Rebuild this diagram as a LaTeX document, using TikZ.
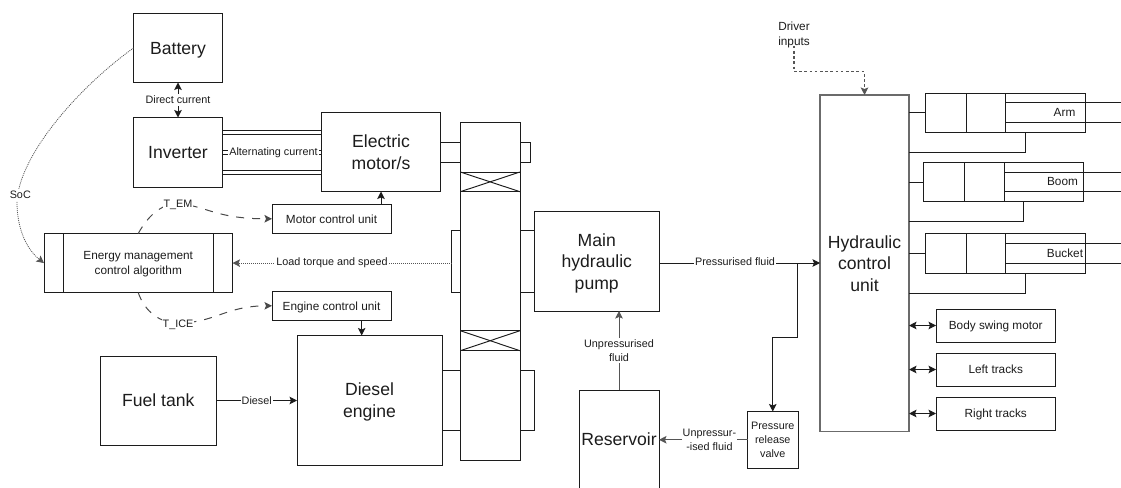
\documentclass[tikz,border=0pt]{standalone}
\usepackage{fontspec}
\setmainfont{Liberation Sans}
\usetikzlibrary{arrows.meta}
\definecolor{ink}{HTML}{1C1C1C}
\tikzset{
  x=1pt,y=-1pt,
  every node/.style={text=ink,align=center,inner sep=0pt,outer sep=0pt,text depth=0pt},
  line/.style={draw=ink,line width=0.95pt},
  box/.style={line,rectangle},
  big/.style={font=\fontsize{17.6}{21.5}\selectfont},
  mid/.style={font=\fontsize{11.8}{15}\selectfont},
  small/.style={font=\fontsize{10.8}{13.8}\selectfont},
  tag/.style={small,fill=white,inner xsep=1pt,inner ysep=2pt},
  tip/.style={-{Stealth[length=7.5pt,width=7.5pt,inset=1.5pt]}},
  tips/.style={{Stealth[length=7.5pt,width=7.5pt,inset=1.5pt]}-{Stealth[length=7.5pt,width=7.5pt,inset=1.5pt]}},
  fine/.style={draw=ink!75,line width=0.8pt,dash pattern=on 1pt off 1pt},
  longdash/.style={draw=ink!80,line width=1pt,dash pattern=on 8pt off 8pt},
  shortdash/.style={draw=ink!75,line width=1.1pt,dash pattern=on 2.6pt off 2.6pt},
}
% \rbox[style]{name}{x1}{y1}{x2}{y2}{text}
\newcommand{\rbox}[7][box]{%
  \node[#1,minimum width={(#5-#3)*1pt},minimum height={(#6-#4)*1pt}] (#2) at ({(#3+#5)/2},{(#4+#6)/2}) {#7};}
% \cyl{name}{x1}{y1}{x2}{y2}{xinner}{xrod}{yrod1}{yrod2}
\newcommand{\cyl}[9]{%
  \rbox[box]{#1}{#2}{#3}{#4}{#5}{}
  \draw[line] (#6,#3) -- (#6,#5);
  \draw[line] (#7,#3) -- (#7,#5);
  \draw[line] (#7,#8) -- (1122,#8);
  \draw[line] (#7,#9) -- (1122,#9);
}
\begin{document}
\begin{tikzpicture}
\useasboundingbox (0,0) rectangle (1121,487);
% main blocks
\rbox[box,big]{battery}{133.5}{13.5}{222.5}{82.5}{Battery}
\rbox[box,big]{inverter}{133.5}{117.5}{222.5}{187}{Inverter}
\rbox[box,big]{motor}{321.5}{112.5}{440.5}{191.5}{Electric\\motor/s}
\rbox[box,mid]{mcu}{272}{204}{391}{233.5}{Motor control unit}
\rbox[box,mid]{ecu}{272}{291}{391}{320.5}{Engine control unit}
\rbox[box,mid]{ems}{44}{233.5}{232.5}{292.7}{Energy management\\control algorithm}
\draw[line] (63,233.5) -- (63,292.7);
\draw[line] (213.5,233.5) -- (213.5,292.7);
\rbox[box,big]{fuel}{100}{356}{216.5}{445}{Fuel tank}
\rbox[box,big]{diesel}{297}{335.5}{442}{465}{Diesel\\engine}
\rbox[box,big]{pump}{534.5}{211.5}{659}{311}{Main\\hydraulic\\pump}
\rbox[big]{reservoir}{579}{390}{659}{487.5}{Reservoir}
\draw[line] (reservoir.south west) -- (reservoir.north west) -- (reservoir.north east) -- (reservoir.south east);
\rbox[box,small]{valve}{747.5}{411.5}{798}{468}{Pressure\\release\\valve}
\rbox[box,big,draw=ink!65,line width=1.2pt]{hcu}{820}{95}{909}{431.5}{Hydraulic\\control\\unit}
\node[mid] (driver) at (794,34) {Driver\\inputs};
% shaft
\rbox[box]{shaft}{460.3}{122.5}{520}{460}{}
\rbox[box]{clutchA}{460.3}{172}{520}{191.7}{}
\draw[line] (clutchA.north west) -- (clutchA.south east);
\draw[line] (clutchA.south west) -- (clutchA.north east);
\rbox[box]{clutchB}{460.3}{330.7}{520}{350.7}{}
\draw[line] (clutchB.north west) -- (clutchB.south east);
\draw[line] (clutchB.south west) -- (clutchB.north east);
\rbox[box]{stubA}{520}{142.3}{530}{162.3}{}
\rbox[box]{stubB}{451.5}{230.7}{460.3}{292.3}{}
% shaft couplings
\draw[line] (motor.east |- 0,142.3) -- (shaft.west |- 0,142.3);
\draw[line] (motor.east |- 0,162.3) -- (shaft.west |- 0,162.3);
\draw[line] (shaft.east |- 0,230.7) -- (pump.west |- 0,230.7);
\draw[line] (shaft.east |- 0,292.3) -- (pump.west |- 0,292.3);
\draw[line] (diesel.east |- 0,370.3) -- (shaft.west |- 0,370.3);
\draw[line] (diesel.east |- 0,430) -- (shaft.west |- 0,430);
\draw[line] (shaft.east |- 0,370.3) -- (pump.west |- 0,370.3) -- (pump.west |- 0,430) -- (shaft.east |- 0,430);
% electric
\draw[line,tips] (battery.south) -- (inverter.north) node[midway,tag] {Direct current};
\foreach \yy in {130.6,134.4,150,154,170,174}{
  \draw[line] (inverter.east |- 0,\yy) -- (motor.west |- 0,\yy);
}
\node[tag] (aclabel) at (273.5,152) {Alternating current};
\draw[line,tip] (motor.south |- mcu.north) -- (motor.south);
\draw[line,tip] (361.7,320.5) -- (361.7,335.5);
\draw[line,tip] (fuel.east) -- (diesel.west |- fuel.east) node[pos=0.5,tag] {Diesel};
% control signals
\draw[fine,tip] (battery.west) .. controls (75,90) and (16,160) .. (17,205)
   .. controls (18,235) and (30,252) .. (ems.west);
\node[tag] (soc) at (20.3,195) {SoC};
\draw[longdash,tip] (ems.north) .. controls (150,212) and (165,203) .. (178,204)
   .. controls (205,205) and (215,219) .. (mcu.west);
\node[tag] (tem) at (178,203.5) {T\_EM};
\draw[longdash,tip] (ems.south) .. controls (145,312) and (160,323) .. (178,323)
   .. controls (215,323) and (225,306) .. (ecu.west);
\node[tag] (tice) at (178,323.5) {T\_ICE};
\draw[fine,tip] (stubB.west |- ems.east) -- (ems.east);
\node[tag] (loadlabel) at (332,262) {Load torque and speed};
% hydraulics
\draw[line,tip] (pump.east |- 0,263) -- (hcu.west |- 0,263);
\node[tag] (pflabel) at (735,262) {Pressurised fluid};
\coordinate (branch) at (797.3,263);
\coordinate (bend) at (797.3,337.7);
\draw[line,tip] (branch) -- (bend) -- (valve.north |- bend) -- (valve.north);
\draw[line,draw=ink!75,tip] (reservoir.north) -- (reservoir.north |- pump.south) node[pos=0.5,tag] {Unpressurised\\fluid};
\draw[line,draw=ink!75,tip] (valve.west) -- (reservoir.east |- valve.west) node[pos=0.43,tag] {Unpressur-\\-ised fluid};
\coordinate (drivebend) at (794,71.7);
\draw[shortdash,tip] (driver.south) -- (drivebend) -- (hcu.north |- drivebend) -- (hcu.north);
% cylinders
\cyl{arm}{925}{93}{1085}{132.3}{966}{1005.5}{102.7}{122.3}
\node[mid] (armlabel) at (1064.5,112) {Arm};
\draw[line] (hcu.east |- 0,112.7) -- (arm.west |- 0,112.7);
\draw[line] (hcu.east |- 0,152.3) -- (1025.5,152.3) -- (1025.5,132.3);
\cyl{boom}{923.3}{162.3}{1083.7}{201.7}{964}{1004}{172}{191.7}
\node[mid] (boomlabel) at (1062.5,181.5) {Boom};
\draw[line] (hcu.east |- 0,182) -- (boom.west |- 0,182);
\draw[line] (hcu.east |- 0,221.7) -- (1023.7,221.7) -- (1023.7,201.7);
\cyl{bucket}{925}{233.3}{1085}{273}{966}{1005.5}{243.3}{263.3}
\node[mid] (bucketlabel) at (1065,253) {Bucket};
\draw[line] (hcu.east |- 0,253.3) -- (bucket.west |- 0,253.3);
\draw[line] (hcu.east |- 0,293) -- (1025.5,293) -- (1025.5,273);
% actuators
\rbox[box,mid]{swing}{936}{309}{1055.5}{342}{Body swing motor}
\rbox[box,mid]{left}{936}{353}{1055.5}{386}{Left tracks}
\rbox[box,mid]{right}{936}{397}{1055.5}{430}{Right tracks}
\draw[line,tips] (hcu.east |- swing.west) -- (swing.west);
\draw[line,tips] (hcu.east |- left.west) -- (left.west);
\draw[line,tips] (hcu.east |- right.west) -- (right.west);
\end{tikzpicture}
\end{document}
